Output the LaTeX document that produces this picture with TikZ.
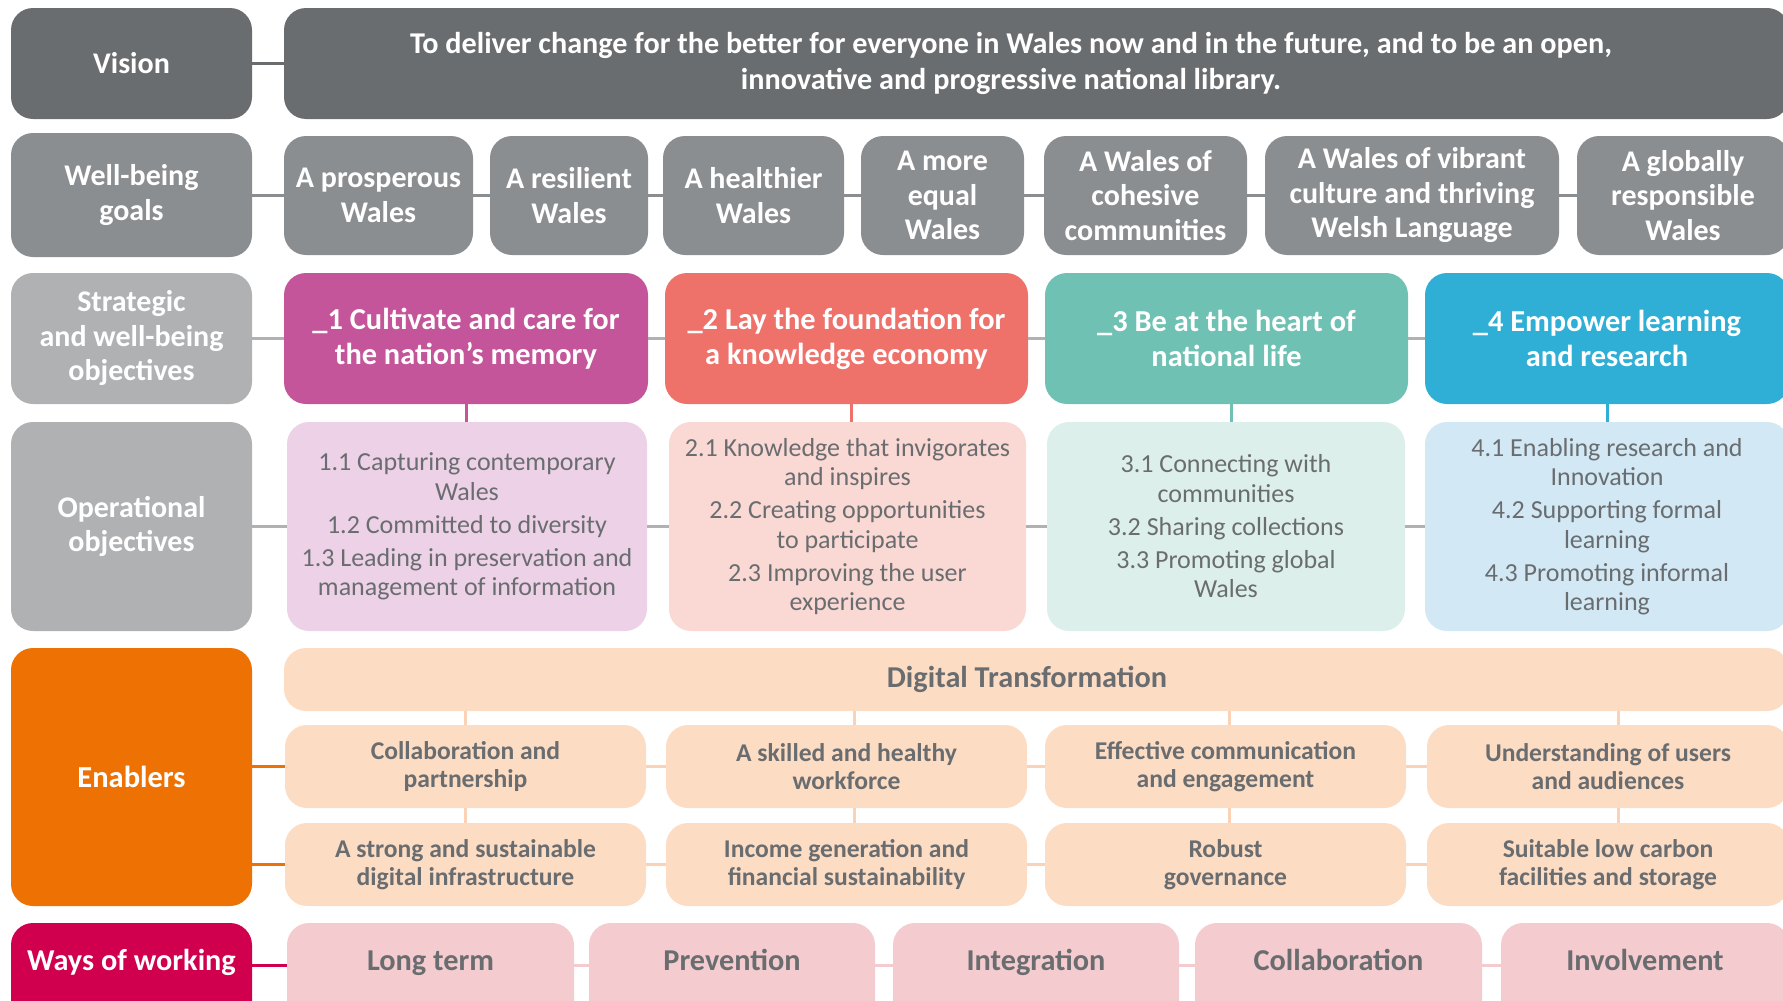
\documentclass[tikz,border=0pt]{standalone}
\usepackage{fontspec}
\setmainfont{Carlito}
\definecolor{cDark}{HTML}{6A6D70}
\definecolor{cMid}{HTML}{8B8E91}
\definecolor{cLight}{HTML}{B0B1B3}
\definecolor{cText}{HTML}{6A6D70}
\definecolor{cMag}{HTML}{C4559A}
\definecolor{cMagL}{HTML}{EDD1E6}
\definecolor{cSal}{HTML}{EE716A}
\definecolor{cSalL}{HTML}{FAD8D3}
\definecolor{cTeal}{HTML}{6FC2B3}
\definecolor{cTealL}{HTML}{DDEFEA}
\definecolor{cBlue}{HTML}{30AFD6}
\definecolor{cBlueL}{HTML}{D2E8F4}
\definecolor{cOr}{HTML}{EE7203}
\definecolor{cPeach}{HTML}{FDDCC4}
\definecolor{cPeachLine}{HTML}{FAD3B6}
\definecolor{cCrim}{HTML}{D1004F}
\definecolor{cPink}{HTML}{F4CBCE}
\begin{document}
\begin{tikzpicture}[x=1pt,y=-1pt,
  box/.style={rectangle, rounded corners=22pt, inner sep=0pt, outer sep=0pt, align=center},
  lab/.style={box, minimum width=241pt, text=white, font=\fontsize{30}{34.5}\selectfont\bfseries},
  goal/.style={box, fill=cMid, minimum height=119pt, text=white, font=\fontsize{30}{34.5}\selectfont\bfseries},
  obj/.style={box, minimum height=131pt, text=white, font=\fontsize{30.4}{35}\selectfont\bfseries},
  op/.style={box, minimum height=209pt, text=cText, font=\fontsize{26}{29.5}\selectfont},
  ena/.style={box, fill=cPeach, minimum height=83pt, text=cText, font=\fontsize{25.6}{28.4}\selectfont\bfseries},
  way/.style={box, fill=cPink, minimum height=117pt},
  waytext/.style={text=cText, font=\fontsize{30.3}{32}\selectfont\bfseries, yshift=18.5pt, text height=21pt, text depth=7pt},
  conn/.style={line width=3pt}
]
\useasboundingbox (0,0) rectangle (1783,1001);

% ---------- left labels
\node[lab, fill=cDark, minimum height=111pt] (lv) at (131.5,63.5) {Vision};
\node[lab, fill=cMid, minimum height=124pt] (lw) at (131.5,195) {Well-being\\goals};
\node[lab, fill=cLight, minimum height=131pt] (ls) at (131.5,338.5) {Strategic\\and well-being\\objectives};
\node[lab, fill=cLight, minimum height=209pt] (lo) at (131.5,526.5) {Operational\\objectives};
\node[lab, fill=cOr, minimum height=258pt, font=\fontsize{30.5}{34}\selectfont\bfseries] (le) at (131.5,777) {Enablers};
\node[lab, fill=cCrim, minimum height=117pt,
  label={[name=lwowt, text=white, font=\fontsize{30.3}{32}\selectfont\bfseries, yshift=18.5pt, text height=21pt, text depth=7pt]center:Ways of working}] (lwow) at (131.5,981.5) {};

% ---------- vision
\node[box, fill=cDark, minimum width=1505pt, minimum height=111pt,
  label={[name=vt, align=center, text=white, font=\fontsize{30.2}{35.2}\selectfont\bfseries, xshift=-25.5pt]center:{To deliver change for the better for everyone in Wales now and in the future, and to be an open,\\innovative and progressive national library.}}] (vb) at (1036.5,63.5) {};

% ---------- well-being goals
\node[goal, minimum width=189pt] (g1) at (378.5,195.5) {A prosperous\\Wales};
\node[goal, minimum width=158pt] (g2) at (569,195.5) {A resilient\\Wales};
\node[goal, minimum width=181pt] (g3) at (753.5,195.5) {A healthier\\Wales};
\node[goal, minimum width=163pt] (g4) at (942.5,195.5) {A more\\equal\\Wales};
\node[goal, minimum width=203pt] (g5) at (1145.5,195.5) {A Wales of\\cohesive\\communities};
\node[goal, minimum width=294pt] (g6) at (1412,195.5) {A Wales of vibrant\\culture and thriving\\Welsh Language};
\node[goal, minimum width=212pt] (g7) at (1683,195.5) {A globally\\responsible\\Wales};

% ---------- strategic objectives
\node[obj, fill=cMag, minimum width=364pt] (o1) at (466,338.5) {\_1 Cultivate and care for\\the nation’s memory};
\node[obj, fill=cSal, minimum width=363pt] (o2) at (846.5,338.5) {\_2 Lay the foundation for\\a knowledge economy};
\node[obj, fill=cTeal, minimum width=363pt] (o3) at (1226.5,338.5) {\_3 Be at the heart of\\national life};
\node[obj, fill=cBlue, minimum width=364pt] (o4) at (1607,338.5) {\_4 Empower learning\\and research};

% ---------- operational objectives
\node[op, fill=cMagL, minimum width=360pt] (p1) at (467,526.5) {1.1 Capturing contemporary\\Wales\\[3.5pt]1.2 Committed to diversity\\[3.5pt]1.3 Leading in preservation and\\management of information};
\node[op, fill=cSalL, minimum width=357pt] (p2) at (847.5,526.5) {2.1 Knowledge that invigorates\\and inspires\\[3.5pt]2.2 Creating opportunities\\to participate\\[3.5pt]2.3 Improving the user\\experience};
\node[op, fill=cTealL, minimum width=358pt] (p3) at (1226,526.5) {3.1 Connecting with\\communities\\[3.5pt]3.2 Sharing collections\\[3.5pt]3.3 Promoting global\\Wales};
\node[op, fill=cBlueL, minimum width=364pt] (p4) at (1607,526.5) {4.1 Enabling research and\\Innovation\\[3.5pt]4.2 Supporting formal\\learning\\[3.5pt]4.3 Promoting informal\\learning};

% ---------- enablers
\node[box, fill=cPeach, minimum width=1505pt, minimum height=63pt,
  label={[name=dtt, text=cText, font=\fontsize{30.3}{32}\selectfont\bfseries, xshift=-9.5pt]center:Digital Transformation}] (dt) at (1036.5,679.5) {};
\node[ena, minimum width=361pt] (e11) at (465.5,766.5) {Collaboration and\\partnership};
\node[ena, minimum width=361pt] (e12) at (846.5,766.5) {A skilled and healthy\\workforce};
\node[ena, minimum width=361pt] (e13) at (1225.5,766.5) {Effective communication\\and engagement};
\node[ena, minimum width=362pt] (e14) at (1608,766.5) {Understanding of users\\and audiences};
\node[ena, minimum width=361pt] (e21) at (465.5,864.5) {A strong and sustainable\\digital infrastructure};
\node[ena, minimum width=361pt] (e22) at (846.5,864.5) {Income generation and\\financial sustainability};
\node[ena, minimum width=361pt] (e23) at (1225.5,864.5) {Robust\\governance};
\node[ena, minimum width=362pt] (e24) at (1608,864.5) {Suitable low carbon\\facilities and storage};

% ---------- ways of working
\node[way, minimum width=287pt, label={[name=w1t, waytext]center:Long term}] (w1) at (430.5,981.5) {};
\node[way, minimum width=286pt, label={[name=w2t, waytext]center:Prevention}] (w2) at (732,981.5) {};
\node[way, minimum width=286pt, label={[name=w3t, waytext]center:Integration}] (w3) at (1036,981.5) {};
\node[way, minimum width=287pt, label={[name=w4t, waytext]center:Collaboration}] (w4) at (1338.5,981.5) {};
\node[way, minimum width=288pt, label={[name=w5t, waytext]center:Involvement}] (w5) at (1645,981.5) {};

% ---------- connectors
\draw[conn, cDark] (lv.east) -- (vb.west);
\draw[conn, cMid] (lw.east) -- (lw.east -| g1.west);
\foreach \a/\b in {g1/g2,g2/g3,g3/g4,g4/g5,g5/g6,g6/g7} \draw[conn, cMid] (\a.east) -- (\b.west);
\draw[conn, cLight] (ls.east) -- (o1.west);
\foreach \a/\b in {o1/o2,o2/o3,o3/o4} \draw[conn, cLight] (\a.east) -- (\b.west);
\draw[conn, cMag] (o1.south) -- (o1.south |- p1.north);
\draw[conn, cSal] ([xshift=5pt]o2.south) -- ([xshift=5pt]o2.south |- p2.north);
\draw[conn, cTeal] ([xshift=5pt]o3.south) -- ([xshift=5pt]o3.south |- p3.north);
\draw[conn, cBlue] (o4.south) -- (o4.south |- p4.north);
\draw[conn, cLight] (lo.east) -- (p1.west);
\foreach \a/\b in {p1/p2,p2/p3,p3/p4} \draw[conn, cLight] (\a.east) -- (\b.west);
\draw[conn, cOr] (le.east |- e11.west) -- (e11.west);
\draw[conn, cOr] (le.east |- e21.west) -- (e21.west);
\foreach \a/\b in {e11/e12,e12/e13,e13/e14,e21/e22,e22/e23,e23/e24} \draw[conn, cPeachLine] (\a.east) -- (\b.west);
\foreach \e/\f/\s in {e11/e21/0,e12/e22/7.5,e13/e23/3.5,e14/e24/10} {
  \draw[conn, cPeachLine] ([xshift=\s pt]\e.north) -- ([xshift=\s pt]\e.north |- dt.south);
  \draw[conn, cPeachLine] ([xshift=\s pt]\e.south) -- ([xshift=\s pt]\e.south |- \f.north);
}
\draw[conn, cCrim] ([yshift=16.5pt]lwow.east) -- ([yshift=16.5pt]w1.west);
\foreach \a/\b in {w1/w2,w2/w3,w3/w4,w4/w5} \draw[conn, cPink] ([yshift=16.5pt]\a.east) -- ([yshift=16.5pt]\b.west);
\end{tikzpicture}
\end{document}
